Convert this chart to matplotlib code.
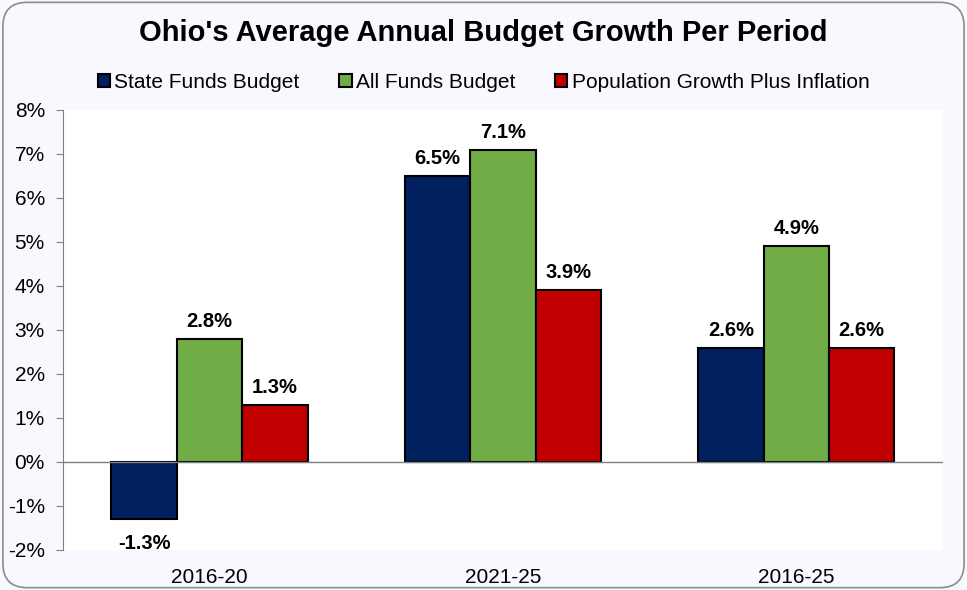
import numpy as np
import matplotlib.pyplot as plt
from matplotlib.patches import FancyBboxPatch
from matplotlib.ticker import FuncFormatter

plt.rcParams['font.family'] = ['Liberation Sans', 'DejaVu Sans']

# data
periods = ['2016-20', '2021-25', '2016-25']
series = ['State Funds Budget', 'All Funds Budget', 'Population Growth Plus Inflation']
state_funds = [-1.3, 6.5, 2.6]
all_funds = [2.8, 7.1, 4.9]
pop_inflation = [1.3, 3.9, 2.6]
colors = ['#002060', '#70AD47', '#C00000']

bg = '#F8F9FE'
fig = plt.figure(figsize=(9.67, 5.90), dpi=100, facecolor=bg)

# rounded frame around the whole chart
frame = FancyBboxPatch((0.003, 0.004), 0.994, 0.992, boxstyle='round,pad=0,rounding_size=0.025',
                       transform=fig.transFigure, facecolor=bg, edgecolor='#8C8C8C', lw=1.2,
                       mutation_aspect=967 / 590, zorder=-10)
fig.patches.append(frame)

ax = fig.add_axes([0.0651, 0.0678, 0.910, 0.7458])
ax.set_facecolor('white')

x = np.arange(len(periods))
w = 0.223
values = [state_funds, all_funds, pop_inflation]
for i, (vals, name, c) in enumerate(zip(values, series, colors)):
    pos = x + (i - 1) * w
    bars = ax.bar(pos, vals, w, color=c, edgecolor='black', lw=1.5, label=name, zorder=3)
    for b, v in zip(bars, vals):
        if v >= 0:
            ax.text(b.get_x() + b.get_width() / 2, v + 0.18, f'{v:.1f}%', ha='center', va='bottom',
                    fontsize=14.5, fontweight='bold')
        else:
            ax.text(b.get_x() + b.get_width() / 2, v - 0.33, f'{v:.1f}%', ha='center', va='top',
                    fontsize=14.5, fontweight='bold')

ax.set_xlim(-0.5, 2.5)
ax.set_ylim(-2, 8)
ax.set_yticks(range(-2, 9))
ax.yaxis.set_major_formatter(FuncFormatter(lambda v, p: f'{int(v)}%'))
ax.axhline(0, color='#808080', lw=1, zorder=4)

for s in ['top', 'right', 'bottom']:
    ax.spines[s].set_visible(False)
ax.spines['left'].set_color('#808080')
ax.tick_params(axis='y', colors='#808080', labelcolor='black', labelsize=15, length=5,
               direction='out', pad=8)
ax.set_xticks(x)
ax.set_xticklabels(periods, fontsize=15)
ax.tick_params(axis='x', length=0, pad=13)

fig.text(0.5, 0.944, "Ohio's Average Annual Budget Growth Per Period", ha='center', va='center',
         fontsize=21, fontweight='bold')
fig.legend(loc='center', bbox_to_anchor=(0.5, 0.86), ncol=3, frameon=False, fontsize=15,
           handlelength=0.6, handleheight=0.6, handletextpad=0.2, columnspacing=1.9)

fig.savefig('out.png', dpi=100, facecolor=bg)
